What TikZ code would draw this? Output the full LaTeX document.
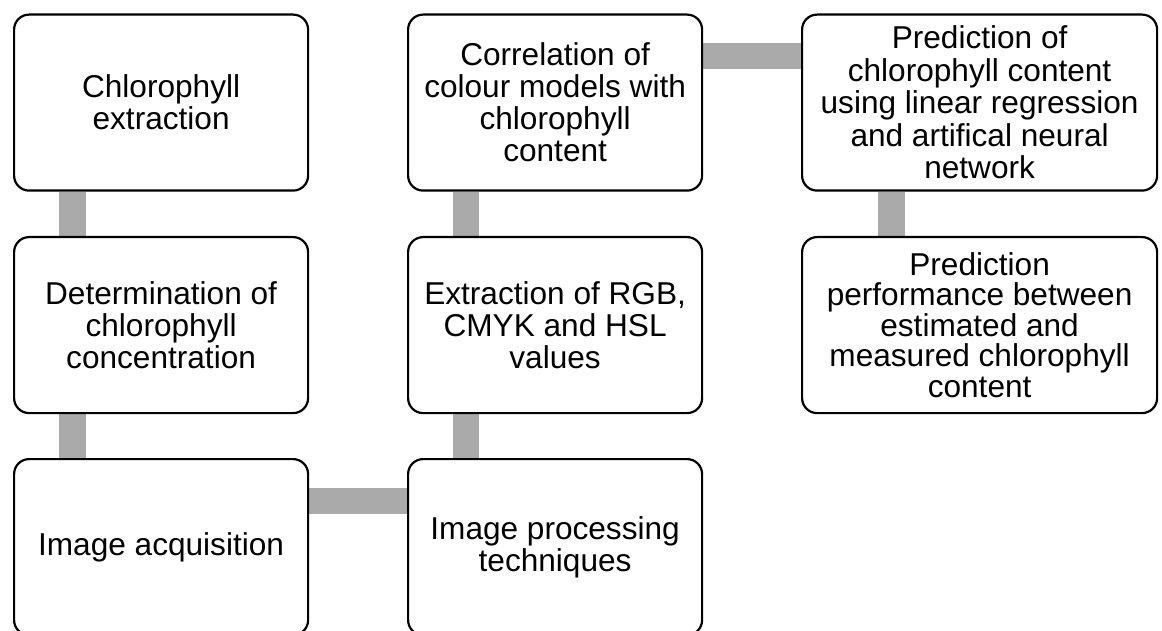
\documentclass[tikz,border=0pt]{standalone}
\usepackage{fontspec}
\setmainfont{Liberation Sans}
\usetikzlibrary{backgrounds}
\begin{document}
\begin{tikzpicture}[x=1pt,y=-1pt,
  stepbox/.style={draw=black, fill=white, line width=2.2pt, rounded corners=15pt,
    minimum width=294pt, minimum height=176pt, inner sep=0pt, anchor=north west,
    align=center, font=\fontsize{31.6}{32}\selectfont},
  widebox/.style={minimum width=355pt},
  widetext/.style={font=\fontsize{31.6}{32.5}\selectfont},
  tighttext/.style={font=\fontsize{31.6}{30.5}\selectfont},
  conn/.style={draw=linkgray, line width=26.5pt}]
\definecolor{linkgray}{RGB}{170,170,170}
\useasboundingbox (0,0) rectangle (1162,631);
\clip (0,0) rectangle (1162,631);
\node[stepbox] (A) at (13,13.5) {Chlorophyll\\extraction};
\node[stepbox] (B) at (13,236) {Determination of\\chlorophyll\\concentration};
\node[stepbox] (C) at (13,458) {Image acquisition};
\node[stepbox] (D) at (407,458) {Image processing\\techniques};
\node[stepbox] (E) at (407,236) {Extraction of RGB,\\CMYK and HSL\\values};
\node[stepbox] (F) at (407,13.5) {Correlation of\\colour models with\\chlorophyll\\content};
\node[stepbox, widebox, widetext] (G) at (801,13.5) {Prediction of\\chlorophyll content\\using linear regression\\and artifical neural\\network};
\node[stepbox, widebox, tighttext] (H) at (801,236) {Prediction\\performance between\\estimated and\\measured chlorophyll\\content};
\begin{scope}[on background layer]
\draw[conn] ([xshift=59.5pt]A.south west) -- ([xshift=59.5pt]B.north west);
\draw[conn] ([xshift=59.5pt]B.south west) -- ([xshift=59.5pt]C.north west);
\draw[conn] ([yshift=-43pt]C.north east) -- ([yshift=-43pt]D.north west);
\draw[conn] ([xshift=59pt]D.north west) -- ([xshift=59pt]E.south west);
\draw[conn] ([xshift=59pt]E.north west) -- ([xshift=59pt]F.south west);
\draw[conn] ([yshift=-42.5pt]F.north east) -- ([yshift=-42.5pt]G.north west);
\draw[conn] ([xshift=90.5pt]G.south west) -- ([xshift=90.5pt]H.north west);
\end{scope}
\end{tikzpicture}
\end{document}
